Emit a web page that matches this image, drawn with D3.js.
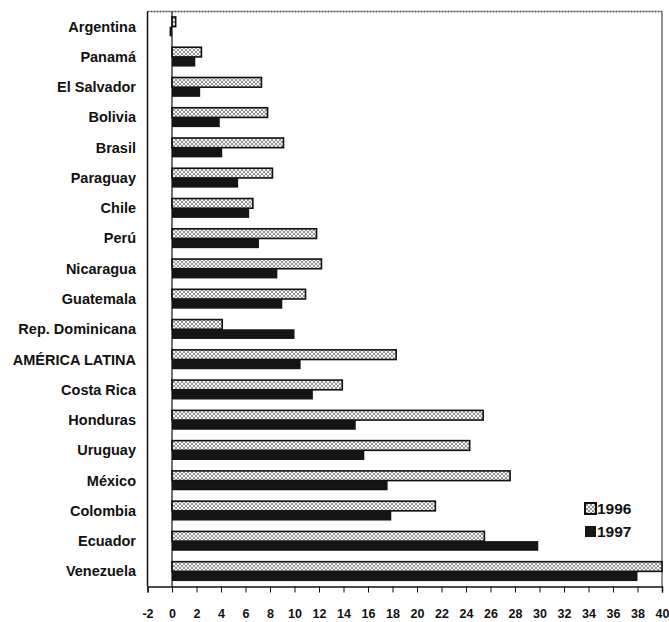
<!DOCTYPE html>
<html>
<head>
<meta charset="utf-8">
<script src="https://cdn.jsdelivr.net/npm/d3@7"></script>
<style>
  html, body { margin: 0; padding: 0; background: #fff; }
  svg { display: block; }
  text { font-family: "Liberation Sans", Arial, sans-serif; fill: #111; }
</style>
</head>
<body>
<svg id="chart" width="669" height="622"></svg>
<script>
// Países (de arriba hacia abajo)
const categories = ["Argentina", "Panamá", "El Salvador", "Bolivia", "Brasil", "Paraguay", "Chile",
  "Perú", "Nicaragua", "Guatemala", "Rep. Dominicana", "AMÉRICA LATINA", "Costa Rica",
  "Honduras", "Uruguay", "México", "Colombia", "Ecuador", "Venezuela"];
const series = ["1996", "1997"];
const values1996 = [0.3, 2.4, 7.3, 7.8, 9.1, 8.2, 6.6, 11.8, 12.2, 10.9, 4.1, 18.3, 13.9, 25.4, 24.3, 27.6, 21.5, 25.5, 40.0];
const values1997 = [-0.2, 1.9, 2.3, 3.9, 4.1, 5.4, 6.3, 7.1, 8.6, 9.0, 10.0, 10.5, 11.5, 15.0, 15.7, 17.6, 17.9, 29.9, 38.0];
const tickValues = d3.range(-2, 41, 2);

const svg = d3.select("#chart");
const plot = { left: 147.5, right: 662, top: 11.5, bottom: 586.5 };

// Trama punteada para la serie 1996
const defs = svg.append("defs");
const pat = defs.append("pattern")
  .attr("id", "hatch").attr("patternUnits", "userSpaceOnUse")
  .attr("width", 4).attr("height", 4);
pat.append("rect").attr("width", 4).attr("height", 4).attr("fill", "#f6f6f6");
pat.append("path").attr("d", "M0,0L4,4M4,0L0,4").attr("stroke", "#8a8a8a").attr("stroke-width", 0.9);

const x = d3.scaleLinear().domain([-2, 40]).range([plot.left, plot.right]);
const y = d3.scaleBand().domain(categories).range([plot.top, plot.bottom])
  .paddingInner(0.36).paddingOuter(0.18);
const ySub = d3.scaleBand().domain(series).range([0, y.bandwidth()]);

const rows = categories.map((c, i) => ({ c, v: [values1996[i], values1997[i]] }));

// Marco del gráfico
svg.append("line").attr("x1", plot.left).attr("x2", plot.right).attr("y1", plot.top).attr("y2", plot.top)
  .attr("stroke", "#444").attr("stroke-width", 1.5).attr("stroke-dasharray", "2,1");
svg.append("line").attr("x1", plot.left).attr("x2", plot.left).attr("y1", plot.top).attr("y2", plot.bottom)
  .attr("stroke", "#111").attr("stroke-width", 1.5);
svg.append("line").attr("x1", plot.right).attr("x2", plot.right).attr("y1", plot.top).attr("y2", plot.bottom)
  .attr("stroke", "#222").attr("stroke-width", 1);

// Barras
const g = svg.append("g");
rows.forEach(r => {
  series.forEach((s, j) => {
    const v = r.v[j];
    const x0 = x(Math.min(0, v)), x1 = x(Math.max(0, v));
    const rect = g.append("rect")
      .attr("x", x0).attr("width", Math.max(0.8, x1 - x0))
      .attr("y", y(r.c) + ySub(s)).attr("height", ySub.bandwidth());
    if (j === 0) {
      rect.attr("fill", "url(#hatch)").attr("stroke", "#111").attr("stroke-width", 1.6);
    } else {
      rect.attr("fill", "#151515");
    }
  });
});

// Línea del cero
svg.append("line").attr("x1", x(0)).attr("x2", x(0)).attr("y1", plot.top).attr("y2", plot.bottom)
  .attr("stroke", "#111").attr("stroke-width", 1.2);

// Eje horizontal
const xAxis = d3.axisBottom(x).tickValues(tickValues).tickSize(6).tickPadding(17)
  .tickFormat(d => String(d));
const ax = svg.append("g").attr("transform", `translate(0,${plot.bottom})`).call(xAxis);
ax.select(".domain").attr("stroke", "#111").attr("stroke-width", 1.5);
ax.selectAll(".tick line").attr("stroke", "#111").attr("stroke-width", 1);
ax.selectAll(".tick text").style("font-family", "'Liberation Sans', Arial, sans-serif")
  .style("font-size", "12.5px").style("font-weight", "bold").attr("fill", "#111");

// Etiquetas de países
svg.append("g").selectAll("text").data(categories).join("text")
  .attr("x", 136).attr("y", d => y(d) + y.bandwidth() / 2)
  .attr("text-anchor", "end").attr("dominant-baseline", "central")
  .style("font-size", "14.5px").style("font-weight", "bold")
  .text(d => d);

// Leyenda
const leg = svg.append("g").attr("transform", "translate(585,503)");
series.forEach((s, i) => {
  const gy = i * 23;
  const sw = leg.append("rect").attr("x", 0).attr("y", gy).attr("width", 11).attr("height", 11);
  if (i === 0) sw.attr("fill", "url(#hatch)").attr("stroke", "#111").attr("stroke-width", 2);
  else sw.attr("fill", "#151515");
  leg.append("text").attr("x", 12).attr("y", gy + 5.5).attr("dominant-baseline", "central")
    .style("font-size", "15.5px").style("font-weight", "bold").text(s);
});
</script>
</body>
</html>
